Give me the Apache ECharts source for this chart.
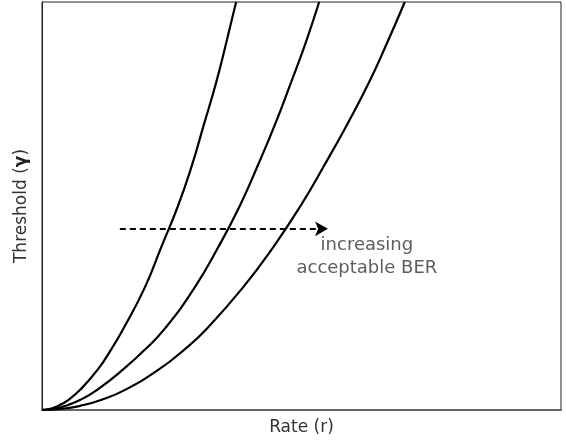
<!DOCTYPE html>
<html>
<head>
<meta charset="utf-8">
<script src="https://cdn.jsdelivr.net/npm/echarts@6/dist/echarts.min.js"></script>
<style>html,body{margin:0;padding:0;background:#fff}#c{width:566px;height:443px}</style>
</head>
<body>
<div id="c"></div>
<script>
// Threshold values (y, % of axis) at which each curve was read
var thresholdLevels = [0, 0.3, 1, 2.5, 5, 10, 15, 20, 30, 40, 50, 60, 70, 80, 90, 100];
// Rate (x, % of axis) of each curve at those thresholds
var rateCurve1 = [0, 1.6, 3.1, 5.1, 7.4, 10.8, 13.4, 15.7, 19.8, 23.0, 26.2, 28.9, 31.2, 33.5, 35.5, 37.4];
var rateCurve2 = [0, 2.4, 4.5, 7.4, 10.7, 15.7, 20.0, 23.7, 29.4, 34.0, 38.1, 41.6, 44.9, 47.9, 50.8, 53.4];
var rateCurve3 = [0, 4.1, 7.3, 11.5, 16.1, 22.6, 27.6, 31.8, 38.7, 44.6, 49.8, 54.4, 58.8, 62.9, 66.5, 69.9];
// Annotation arrow (start x, end x, y) and text anchor
var arrowX = [15.0, 55.1];
var arrowY = 44.4;
var noteText = 'increasing\nacceptable BER';
var noteAt = [62.6, 37.6];
var xName = 'Rate (r)';
var yName = 'Threshold ({g|\u03b3})';

function pairs(xs){ return xs.map(function(x,i){ return [x, thresholdLevels[i]]; }); }

var chart = echarts.init(document.getElementById('c'), null, {renderer:'canvas'});
var FONT = 'DejaVu Sans';
function curve(xs){
  return {type:'line', data:pairs(xs), smooth:0.5, showSymbol:false, symbol:'none',
          lineStyle:{color:'#000', width:2.2}, silent:true, clip:true, z:3};
}
chart.setOption({
  animation:false,
  grid:{left:42, top:2, right:5, bottom:33, show:true, borderColor:'#222', borderWidth:1, backgroundColor:'transparent'},
  xAxis:{type:'value', min:0, max:100, name:xName, nameLocation:'middle', nameGap:9,
    nameTextStyle:{fontFamily:FONT, fontSize:17, color:'#333', verticalAlign:'top'},
    axisLine:{show:true, lineStyle:{color:'#666', width:2}}, axisTick:{show:false}, axisLabel:{show:false}, splitLine:{show:false}},
  yAxis:{type:'value', min:0, max:100, name:yName, nameLocation:'middle', nameGap:12,
    nameTextStyle:{fontFamily:FONT, fontSize:17, color:'#333', rich:{g:{fontFamily:FONT, fontSize:17, fontWeight:'bold', color:'#222'}}},
    axisLine:{show:true, lineStyle:{color:'#222', width:1}}, axisTick:{show:false}, axisLabel:{show:false}, splitLine:{show:false}},
  series:[
    curve(rateCurve1), curve(rateCurve2), curve(rateCurve3),
    {type:'line', data:[], silent:true,
     markLine:{silent:true, symbol:['none','arrow'], symbolSize:[11,13], animation:false,
       label:{show:false},
       lineStyle:{color:'#000', width:2, type:[6,4]},
       data:[[{coord:[arrowX[0], arrowY]},{coord:[arrowX[1], arrowY]}]]}},
    {type:'scatter', data:[noteAt], symbolSize:0, silent:true,
     label:{show:true, position:'inside', formatter:noteText, fontFamily:FONT, fontSize:18, color:'#333', lineHeight:23, align:'center'}}
  ]
});
</script>
</body>
</html>
